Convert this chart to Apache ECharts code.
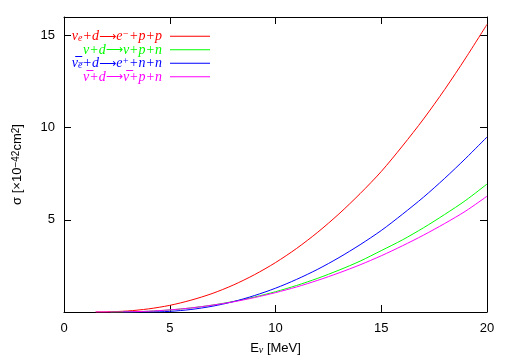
<!DOCTYPE html>
<html><head><meta charset="utf-8">
<script src="https://cdn.jsdelivr.net/npm/echarts@6/dist/echarts.min.js"></script>
<style>html,body{margin:0;padding:0;background:#fff}#c{width:505px;height:361px}</style>
</head><body><div id="c"></div>
<script>
// ---- data ----
const xTicks = [0, 5, 10, 15, 20];
const yTicks = [5, 10, 15];
const seriesNames = ['nue_cc', 'nu_nc', 'nuebar_cc', 'nubar_nc'];
const colors = ['#ff0000', '#00ff00', '#0000ff', '#ff00ff'];

const eRed = [1.5, 2, 3, 4, 5, 6, 7, 8, 9, 10, 11, 12, 13, 14, 15, 16, 17, 18, 19, 20];
const sRed = [0.0, 0.005, 0.055, 0.17, 0.36, 0.64, 1.0, 1.46, 2.02, 2.68, 3.45, 4.33, 5.32, 6.42, 7.62, 9.0, 10.47, 12.07, 13.79, 15.6];

const eGreen = [2.2, 3, 4, 5, 6, 7, 8, 9, 10, 11, 12, 13, 14, 15, 16, 17, 18, 19, 20];
const sGreen = [0.0, 0.007, 0.04, 0.11, 0.22, 0.37, 0.57, 0.81, 1.10, 1.44, 1.83, 2.27, 2.76, 3.33, 3.91, 4.57, 5.29, 6.06, 6.94];

const eBlue = [2.8, 4, 5, 6, 7, 8, 9, 10, 11, 12, 13, 14, 15, 16, 17, 18, 19, 20];
const sBlue = [0.0, 0.0, 0.034, 0.136, 0.31, 0.56, 0.89, 1.29, 1.77, 2.32, 2.95, 3.65, 4.42, 5.30, 6.23, 7.25, 8.34, 9.49];

const eMag = [1.5, 2.2, 3, 4, 5, 6, 7, 8, 9, 10, 11, 12, 13, 14, 15, 16, 17, 18, 19, 20];
const sMag = [0.0, 0.0, 0.007, 0.044, 0.115, 0.22, 0.37, 0.55, 0.78, 1.05, 1.36, 1.72, 2.12, 2.56, 3.05, 3.59, 4.17, 4.80, 5.48, 6.28];

const legendLabels = {
  nue_cc: '\u03bd{sub|e}+d{arr|\u27f6}e{sup|\u2212}+p+p',
  nu_nc: '\u03bd+d{arr|\u27f6}\u03bd+p+n',
  nuebar_cc: '\u03bd\u0305{sub|e\u0305}+d{arr|\u27f6}e{sup|+}+n+n',
  nubar_nc: '\u03bd\u0305+d{arr|\u27f6}\u03bd\u0305+p+n'
};

// ---- chart ----
const zip = (xs, ys) => xs.map((x, i) => [x, ys[i]]);
const datasets = [zip(eRed, sRed), zip(eGreen, sGreen), zip(eBlue, sBlue), zip(eMag, sMag)];

const chart = echarts.init(document.getElementById('c'), null, {renderer: 'canvas'});
const axisFont = {fontFamily: 'Liberation Sans', fontSize: 13, color: '#000'};
const lineStyleBlack = {color: '#000', width: 1};
const legFont = 'Liberation Serif';
// legend sample: 40x14 box with a 1px line through its middle
const legendIcon = 'path://M0,6h40v1h-40zM0,0h0.001v0.001h-0.001zM39.999,13.999h0.001v0.001h-0.001z';

chart.setOption({
  animation: false,
  backgroundColor: '#fff',
  grid: {left: 64, right: 18, top: 17, bottom: 49, containLabel: false},
  legend: {
    orient: 'vertical',
    align: 'right',
    right: 295,
    top: 29.75,
    padding: 0,
    itemWidth: 40,
    itemHeight: 14,
    itemGap: -0.5,
    icon: legendIcon,
    data: seriesNames.map((n, i) => ({name: n, textStyle: {color: colors[i]}, itemStyle: {color: colors[i]}})),
    formatter: n => legendLabels[n] + '{gap|}',
    textStyle: {
      fontFamily: legFont, fontStyle: 'italic', fontSize: 14, lineHeight: 14,
      rich: {
        sub: {fontFamily: legFont, fontStyle: 'italic', fontSize: 10, lineHeight: 14, verticalAlign: 'bottom'},
        sup: {fontFamily: legFont, fontStyle: 'italic', fontSize: 10, lineHeight: 14, verticalAlign: 'top'},
        arr: {fontFamily: 'DejaVu Sans', fontStyle: 'normal', fontSize: 12, lineHeight: 14},
        gap: {width: 3, lineHeight: 14}
      }
    }
  },
  xAxis: [{
    type: 'value', min: 0, max: 20, interval: 5, position: 'bottom',
    axisLine: {onZero: false, lineStyle: lineStyleBlack},
    axisTick: {inside: true, length: 7, lineStyle: lineStyleBlack},
    splitLine: {show: false},
    axisLabel: Object.assign({margin: 10}, axisFont),
    name: 'E{nu|\u03bd} [MeV]', nameLocation: 'middle', nameGap: 30,
    nameTextStyle: {fontFamily: 'Liberation Sans', fontSize: 13, color: '#000',
      rich: {nu: {fontFamily: 'Liberation Serif', fontStyle: 'italic', fontSize: 10, verticalAlign: 'bottom'}}}
  }, {
    type: 'value', min: 0, max: 20, interval: 5, position: 'top',
    axisLine: {onZero: false, lineStyle: lineStyleBlack},
    axisTick: {inside: true, length: 7, lineStyle: lineStyleBlack},
    axisLabel: {show: false}, splitLine: {show: false}
  }],
  yAxis: [{
    type: 'value', min: 0, max: 16, interval: 5, position: 'left',
    axisLine: {onZero: false, lineStyle: lineStyleBlack},
    axisTick: {inside: true, length: 7, lineStyle: lineStyleBlack},
    splitLine: {show: false},
    axisLabel: Object.assign({margin: 9, formatter: v => yTicks.includes(v) ? String(v) : ''}, axisFont),
    name: '\u03c3 [\u00d710{sup|\u221242}cm{sup|2}]', nameLocation: 'middle', nameGap: 40, nameRotate: 90,
    nameTextStyle: {fontFamily: 'Liberation Sans', fontSize: 13, color: '#000',
      rich: {sup: {fontFamily: 'Liberation Sans', fontSize: 10, verticalAlign: 'top'}}}
  }, {
    type: 'value', min: 0, max: 16, interval: 5, position: 'right',
    axisLine: {onZero: false, lineStyle: lineStyleBlack},
    axisTick: {inside: true, length: 7, lineStyle: lineStyleBlack},
    axisLabel: {show: false}, splitLine: {show: false}
  }],
  series: seriesNames.map((n, i) => ({
    name: n, type: 'line', xAxisIndex: 0, yAxisIndex: 0,
    data: datasets[i], showSymbol: false, symbol: 'none',
    smooth: 0.3,
    lineStyle: {color: colors[i], width: 1}, itemStyle: {color: colors[i]},
    z: 2 + i
  }))
});
</script></body></html>
